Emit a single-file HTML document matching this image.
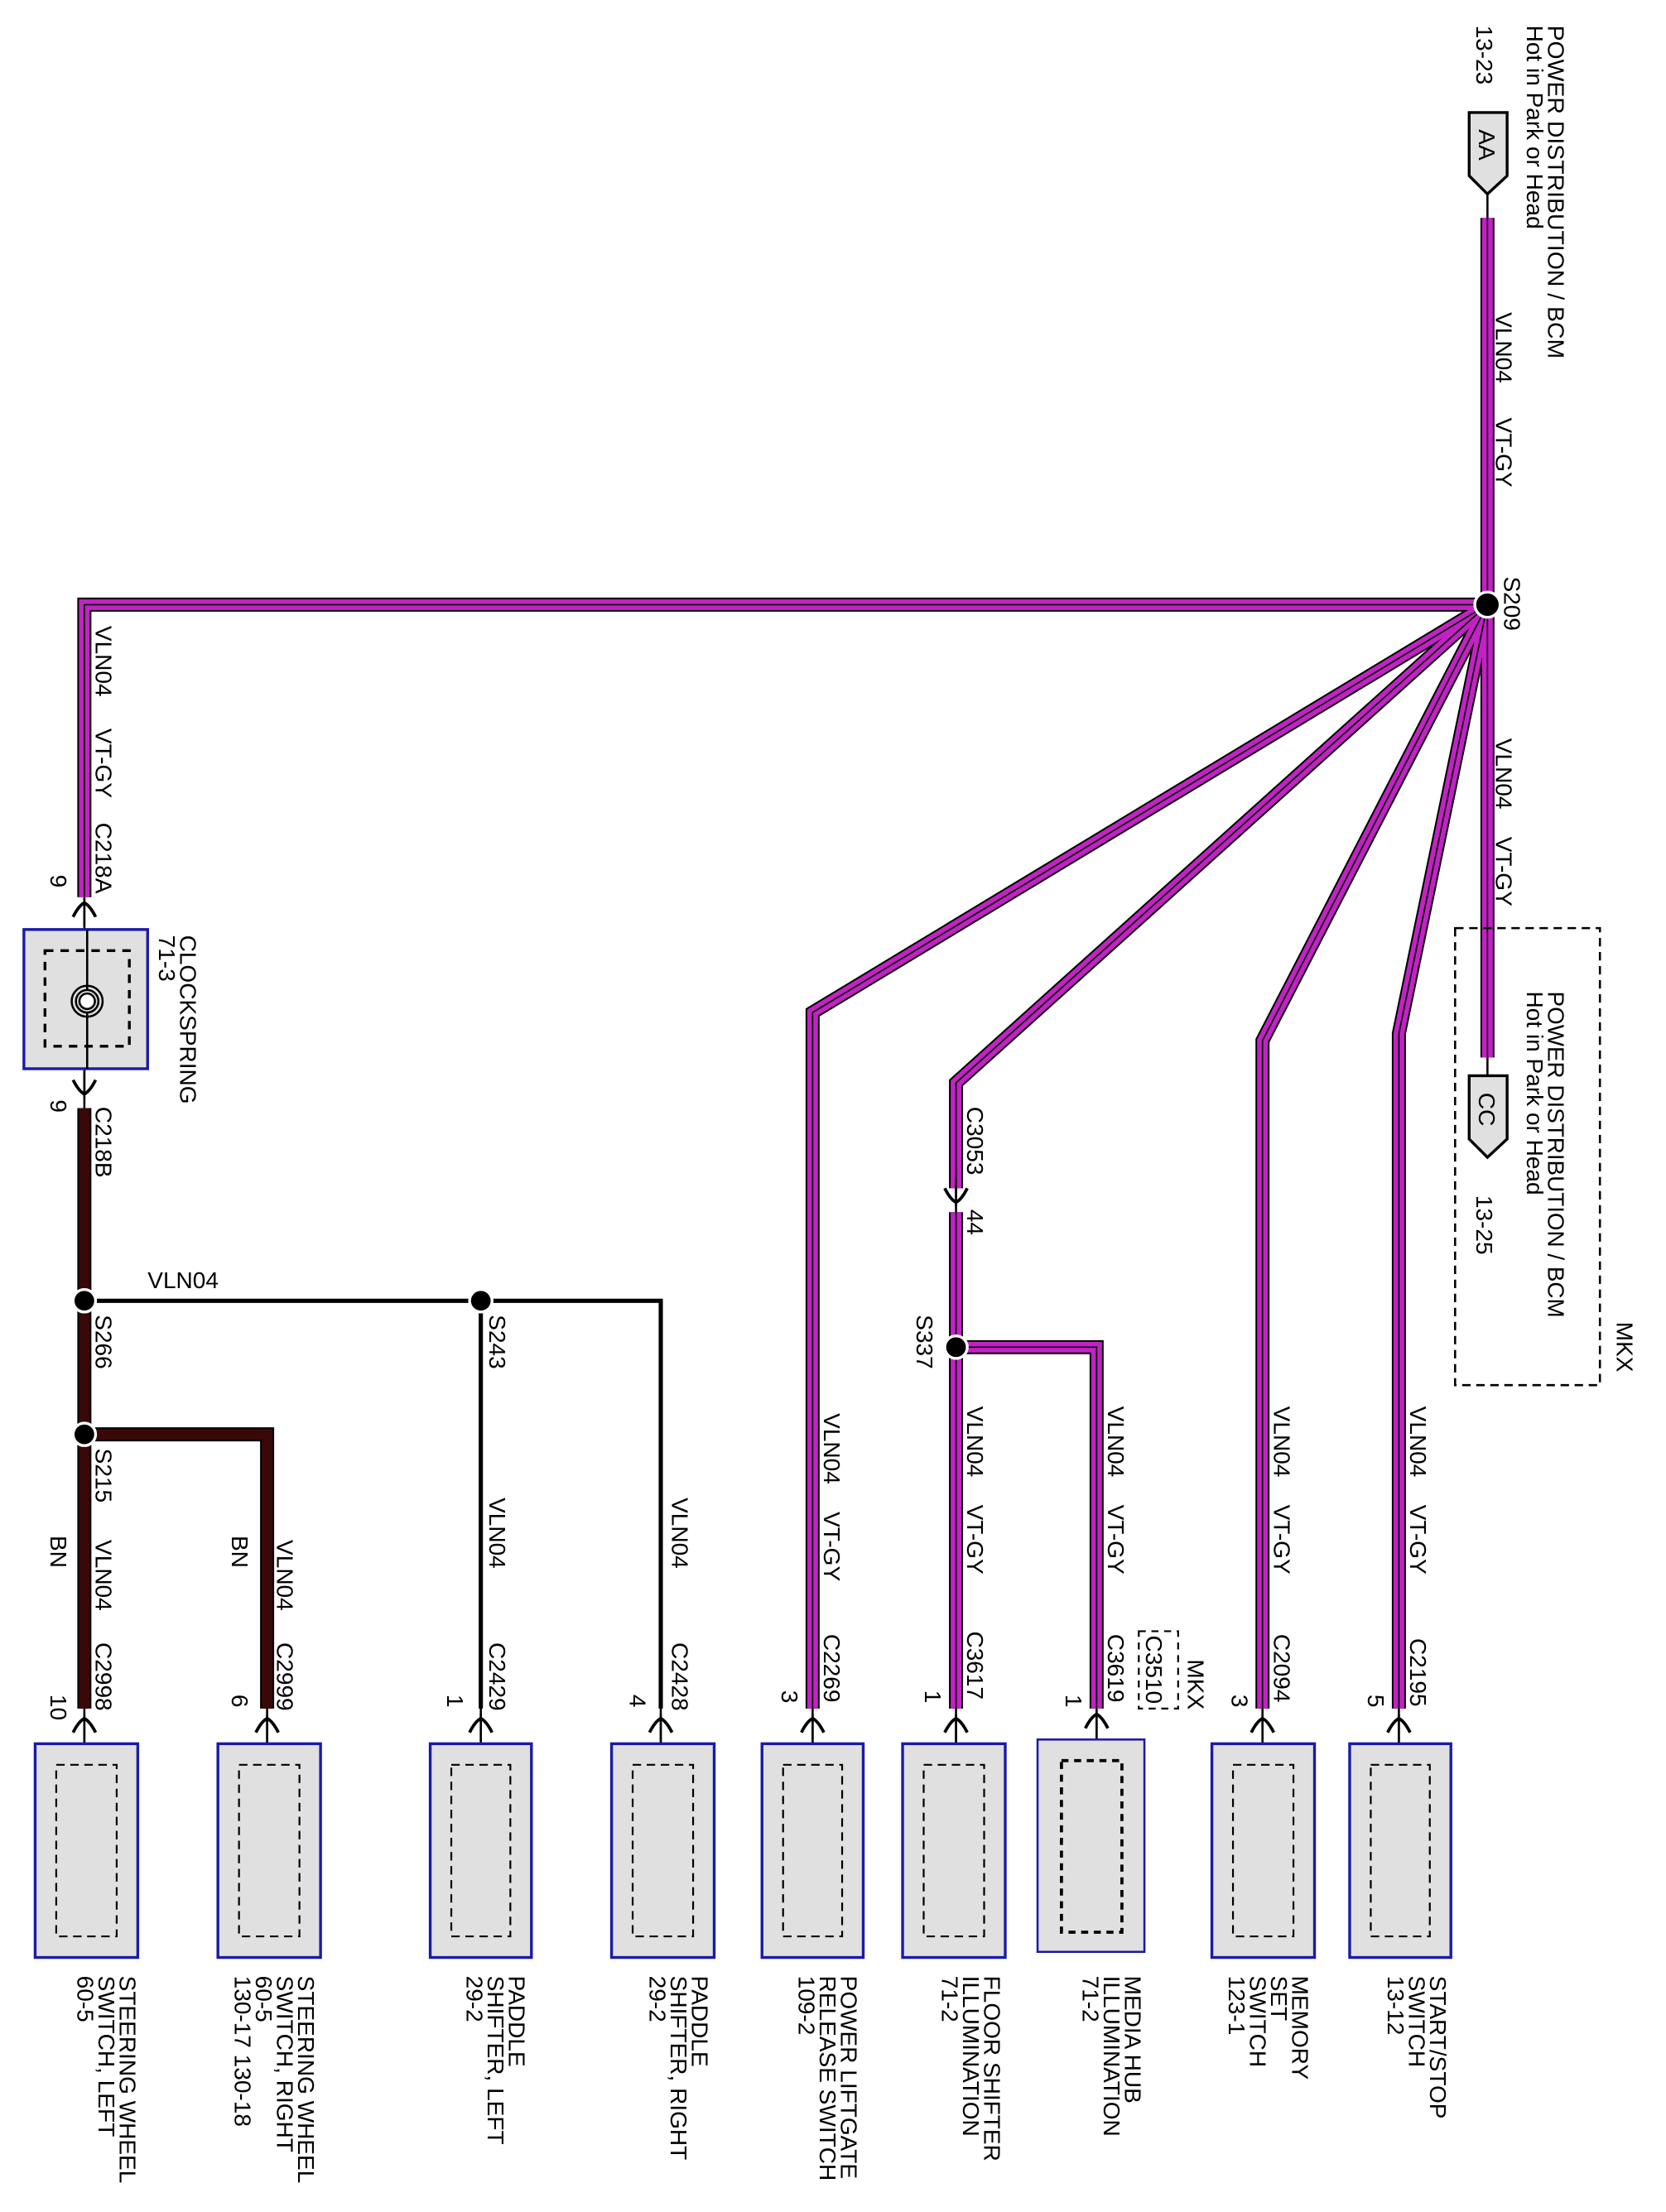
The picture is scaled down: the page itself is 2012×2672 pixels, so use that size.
<!DOCTYPE html>
<html><head><meta charset="utf-8"><style>
html,body{margin:0;padding:0;background:#fff}
svg{display:block}
text{font-family:"Liberation Sans",sans-serif;font-size:16.5px;fill:#000}
</style></head><body>
<svg width="2012" height="2672" viewBox="0 0 1185 1573" preserveAspectRatio="none" xmlns="http://www.w3.org/2000/svg">
<defs>
<path id="p1" d="M1058,155 V430"/>
<path id="p2" d="M1058,430 H60 V638"/>
<path id="p3" d="M1058,430 L578,720 V1215"/>
<path id="p4" d="M1058,430 L680,770 V845"/>
<path id="p5" d="M680,862 V1215"/>
<path id="p6" d="M680,958 H780 V1215"/>
<path id="p7" d="M1058,430 L898,740 V1215"/>
<path id="p8" d="M1058,430 L995,735 V1215"/>
<path id="p9" d="M1058,430 V752"/>
<path id="b1" d="M60,788 V1215"/>
<path id="b2" d="M60,1020 H190 V1215"/>
<g id="arr"><path d="M-8,7 Q-4,-1 0,-3 Q4,-1 8,7" fill="none" stroke="#000" stroke-width="2.2"/><path d="M0,-6 V14" stroke="#000" stroke-width="1.5"/></g>
<g id="arrd"><path d="M-8,-7 Q-4,1 0,3 Q4,1 8,-7" fill="none" stroke="#000" stroke-width="2.2"/><path d="M0,-14 V6" stroke="#000" stroke-width="1.5"/></g>
</defs>

<g fill="none" stroke="#000" stroke-width="1.5">
<path d="M1058,138 V156"/><path d="M1058,750 V766"/>
<path d="M60,636 V790"/>
<path d="M680,843 V864"/>
<path d="M60,1210 V1255"/><path d="M190,1210 V1255"/><path d="M342,1210 V1255"/><path d="M470,1210 V1255"/>
<path d="M578,1210 V1255"/><path d="M680,1210 V1255"/><path d="M780,1210 V1252"/><path d="M898,1210 V1255"/><path d="M995,1210 V1255"/>
</g>
<g fill="none" stroke="#000" stroke-width="3">
<path d="M60,925 H470 V1215"/><path d="M342,925 V1215"/>
</g>

<g fill="none" stroke-linejoin="miter">
<g stroke="#000" stroke-width="10">
<use href="#p1"/><use href="#p2"/><use href="#p3"/><use href="#p4"/><use href="#p5"/><use href="#p6"/><use href="#p7"/><use href="#p8"/><use href="#p9"/>
<use href="#b1"/><use href="#b2"/>
</g>
<g stroke="#c222c4" stroke-width="7.6">
<use href="#p1"/><use href="#p2"/><use href="#p3"/><use href="#p4"/><use href="#p5"/><use href="#p6"/><use href="#p7"/><use href="#p8"/><use href="#p9"/>
</g>
<g stroke="#3a0808" stroke-width="7.6"><use href="#b1"/><use href="#b2"/></g>
<g stroke="#000" stroke-width="1">
<use href="#p1"/><use href="#p2"/><use href="#p3"/><use href="#p4"/><use href="#p5"/><use href="#p6"/><use href="#p7"/><use href="#p8"/><use href="#p9"/>
</g>
</g>

<g fill="#000" stroke="#fff" stroke-width="2">
<circle cx="1058" cy="430" r="9"/><circle cx="60" cy="925" r="8"/><circle cx="60" cy="1020" r="8"/><circle cx="342" cy="925" r="8"/><circle cx="680" cy="958" r="8"/>
</g>

<use href="#arr" x="60" y="645"/><use href="#arrd" x="60" y="775"/>
<use href="#arrd" x="680" y="852"/>
<use href="#arr" x="60" y="1225"/><use href="#arr" x="190" y="1225"/><use href="#arr" x="342" y="1225"/><use href="#arr" x="470" y="1225"/>
<use href="#arr" x="578" y="1225"/><use href="#arr" x="680" y="1225"/><use href="#arr" x="780" y="1222"/><use href="#arr" x="898" y="1225"/><use href="#arr" x="995" y="1225"/>

<polygon points="1045,80 1072,80 1072,125 1058,138 1045,125" fill="#e0e0e0" stroke="#000" stroke-width="2"/>
<polygon points="1045,765 1072,765 1072,810 1058,823 1045,810" fill="#e0e0e0" stroke="#000" stroke-width="2"/>
<text transform="translate(1052,92) rotate(90)">AA</text>
<text transform="translate(1052,777) rotate(90)">CC</text>
<rect x="1035" y="660" width="103" height="325" fill="none" stroke="#000" stroke-width="1.5" stroke-dasharray="6,4"/>

<rect x="17" y="661" width="88" height="99" fill="#e0e0e0" stroke="#1a1aa8" stroke-width="2"/>
<rect x="32" y="676" width="60" height="68" fill="none" stroke="#000" stroke-width="2" stroke-dasharray="6,5"/>
<line x1="62" y1="661" x2="62" y2="760" stroke="#000" stroke-width="1.5"/>
<circle cx="62" cy="712" r="11" fill="none" stroke="#000" stroke-width="1.5"/>
<circle cx="62" cy="712" r="8" fill="#e0e0e0" stroke="#000" stroke-width="1.5"/>
<circle cx="62" cy="712" r="5.5" fill="#fff" stroke="#000" stroke-width="1.5"/>

<g fill="#e0e0e0" stroke="#1a1aa8" stroke-width="2">
<rect x="25" y="1240" width="73" height="152"/><rect x="155" y="1240" width="73" height="152"/>
<rect x="306" y="1240" width="72" height="152"/><rect x="435" y="1240" width="73" height="152"/>
<rect x="542" y="1240" width="72" height="152"/><rect x="642" y="1240" width="73" height="152"/>
<rect x="738" y="1237" width="76" height="151" stroke-width="1.5"/>
<rect x="862" y="1240" width="73" height="152"/><rect x="960" y="1240" width="72" height="152"/>
</g>
<g fill="none" stroke="#000" stroke-width="1.3" stroke-dasharray="6,4">
<rect x="40" y="1255" width="43" height="122"/><rect x="170" y="1255" width="43" height="122"/>
<rect x="321" y="1255" width="42" height="122"/><rect x="450" y="1255" width="43" height="122"/>
<rect x="557" y="1255" width="42" height="122"/><rect x="657" y="1255" width="43" height="122"/>
<rect x="877" y="1255" width="43" height="122"/><rect x="975" y="1255" width="42" height="122"/>
</g>
<rect x="755" y="1252" width="43" height="122" fill="none" stroke="#000" stroke-width="2.2" stroke-dasharray="5,4"/>
<rect x="810" y="1160" width="28" height="55" fill="none" stroke="#000" stroke-width="1.3" stroke-dasharray="5,4"/>

<g>
<text transform="translate(1101,18) rotate(90)" textLength="237" lengthAdjust="spacingAndGlyphs">POWER DISTRIBUTION / BCM</text>
<text transform="translate(1086,18) rotate(90)">Hot in Park or Head</text>
<text transform="translate(1050,18) rotate(90)">13-23</text>
<text transform="translate(1064,222) rotate(90)">VLN04</text>
<text transform="translate(1064,297) rotate(90)">VT-GY</text>
<text transform="translate(1070,410) rotate(90)">S209</text>
<text transform="translate(1064,525) rotate(90)">VLN04</text>
<text transform="translate(1064,595) rotate(90)">VT-GY</text>
<text transform="translate(1101,705) rotate(90)" textLength="232" lengthAdjust="spacingAndGlyphs">POWER DISTRIBUTION / BCM</text>
<text transform="translate(1086,705) rotate(90)">Hot in Park or Head</text>
<text transform="translate(1050,850) rotate(90)">13-25</text>
<text transform="translate(1150,940) rotate(90)">MKX</text>

<text transform="translate(68,445) rotate(90)">VLN04</text>
<text transform="translate(68,518) rotate(90)">VT-GY</text>
<text transform="translate(68,585) rotate(90)">C218A</text>
<text transform="translate(36,622) rotate(90)">9</text>
<text transform="translate(128,665) rotate(90)">CLOCKSPRING</text>
<text transform="translate(113,665) rotate(90)">71-3</text>
<text transform="translate(36,782) rotate(90)">9</text>
<text transform="translate(68,787) rotate(90)">C218B</text>
<text x="105" y="916">VLN04</text>
<text transform="translate(68,935) rotate(90)">S266</text>
<text transform="translate(348,935) rotate(90)">S243</text>
<text transform="translate(68,1030) rotate(90)">S215</text>
<text transform="translate(36,1092) rotate(90)">BN</text>
<text transform="translate(68,1095) rotate(90)">VLN04</text>
<text transform="translate(68,1168) rotate(90)">C2998</text>
<text transform="translate(36,1205) rotate(90)">10</text>
<text transform="translate(165,1092) rotate(90)">BN</text>
<text transform="translate(197,1095) rotate(90)">VLN04</text>
<text transform="translate(197,1168) rotate(90)">C2999</text>
<text transform="translate(165,1205) rotate(90)">6</text>
<text transform="translate(348,1065) rotate(90)">VLN04</text>
<text transform="translate(348,1168) rotate(90)">C2429</text>
<text transform="translate(318,1205) rotate(90)">1</text>
<text transform="translate(478,1065) rotate(90)">VLN04</text>
<text transform="translate(478,1168) rotate(90)">C2428</text>
<text transform="translate(448,1205) rotate(90)">4</text>
<text transform="translate(586,1005) rotate(90)">VLN04</text>
<text transform="translate(586,1075) rotate(90)">VT-GY</text>
<text transform="translate(586,1162) rotate(90)">C2269</text>
<text transform="translate(556,1202) rotate(90)">3</text>
<text transform="translate(688,787) rotate(90)">C3053</text>
<text transform="translate(688,860) rotate(90)">44</text>
<text transform="translate(652,935) rotate(90)">S337</text>
<text transform="translate(688,1000) rotate(90)">VLN04</text>
<text transform="translate(688,1070) rotate(90)">VT-GY</text>
<text transform="translate(688,1160) rotate(90)">C3617</text>
<text transform="translate(658,1202) rotate(90)">1</text>
<text transform="translate(788,1000) rotate(90)">VLN04</text>
<text transform="translate(788,1070) rotate(90)">VT-GY</text>
<text transform="translate(788,1162) rotate(90)">C3619</text>
<text transform="translate(758,1205) rotate(90)">1</text>
<text transform="translate(815,1163) rotate(90)">C3510</text>
<text transform="translate(845,1180) rotate(90)">MKX</text>
<text transform="translate(906,1000) rotate(90)">VLN04</text>
<text transform="translate(906,1070) rotate(90)">VT-GY</text>
<text transform="translate(906,1162) rotate(90)">C2094</text>
<text transform="translate(876,1205) rotate(90)">3</text>
<text transform="translate(1003,1000) rotate(90)">VLN04</text>
<text transform="translate(1003,1070) rotate(90)">VT-GY</text>
<text transform="translate(1003,1165) rotate(90)">C2195</text>
<text transform="translate(973,1205) rotate(90)">5</text>

<text transform="translate(85,1405) rotate(90)">STEERING WHEEL</text>
<text transform="translate(70,1405) rotate(90)">SWITCH, LEFT</text>
<text transform="translate(55,1405) rotate(90)">60-5</text>
<text transform="translate(212,1405) rotate(90)">STEERING WHEEL</text>
<text transform="translate(197,1405) rotate(90)">SWITCH, RIGHT</text>
<text transform="translate(182,1405) rotate(90)">60-5</text>
<text transform="translate(167,1405) rotate(90)">130-17   130-18</text>
<text transform="translate(362,1405) rotate(90)">PADDLE</text>
<text transform="translate(347,1405) rotate(90)">SHIFTER, LEFT</text>
<text transform="translate(332,1405) rotate(90)">29-2</text>
<text transform="translate(492,1405) rotate(90)">PADDLE</text>
<text transform="translate(477,1405) rotate(90)">SHIFTER, RIGHT</text>
<text transform="translate(462,1405) rotate(90)">29-2</text>
<text transform="translate(598,1405) rotate(90)">POWER LIFTGATE</text>
<text transform="translate(583,1405) rotate(90)">RELEASE SWITCH</text>
<text transform="translate(568,1405) rotate(90)">109-2</text>
<text transform="translate(700,1405) rotate(90)">FLOOR SHIFTER</text>
<text transform="translate(685,1405) rotate(90)">ILLUMINATION</text>
<text transform="translate(670,1405) rotate(90)">71-2</text>
<text transform="translate(800,1405) rotate(90)">MEDIA HUB</text>
<text transform="translate(785,1405) rotate(90)">ILLUMINATION</text>
<text transform="translate(770,1405) rotate(90)">71-2</text>
<text transform="translate(919,1405) rotate(90)">MEMORY</text>
<text transform="translate(904,1405) rotate(90)">SET</text>
<text transform="translate(889,1405) rotate(90)">SWITCH</text>
<text transform="translate(874,1405) rotate(90)">123-1</text>
<text transform="translate(1017,1405) rotate(90)">START/STOP</text>
<text transform="translate(1002,1405) rotate(90)">SWITCH</text>
<text transform="translate(987,1405) rotate(90)">13-12</text>
</g>
</svg>
</body></html>
